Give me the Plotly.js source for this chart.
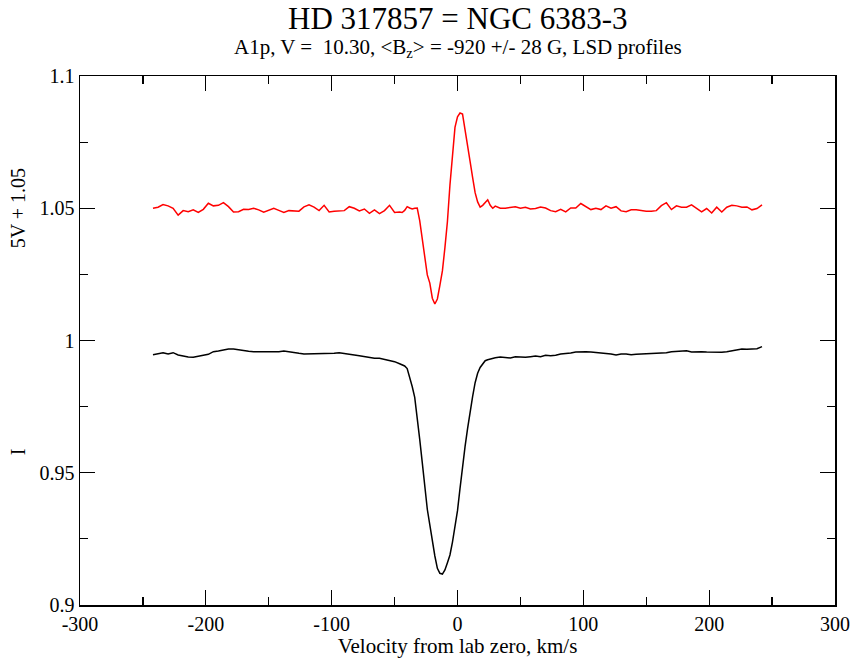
<!DOCTYPE html>
<html>
<head>
<meta charset="utf-8">
<script src="https://cdn.plot.ly/plotly-3.0.1.min.js"></script>
<style>html,body{margin:0;padding:0;background:#fff;}#chart{width:852px;height:658px;}</style>
</head>
<body>
<div id="chart"></div>
<script>
// Velocity grid (km/s), finer across the line core
var velocity = [
-242,-238,-234,-230,-226,-222,-218,-214,-210,-206,-202,-198,-194,-190,-186,-182,-178,-174,-170,-166,
-162,-158,-154,-150,-146,-142,-138,-134,-130,-126,-122,-118,-114,-110,-106,-102,-98,-94,-90,-86,
-82,-78,-74,-70,-66,-62,-58,-54,-50,-46,
-44,-42,-40,-38,-36,-34,-32,-30,-28,-26,-24,-22,-20,-18,-16,-14,-12,-10,-8,-6,
-4,-2,0,2,4,6,8,10,12,14,16,18,20,22,24,26,28,
30,34,38,42,46,50,54,58,62,66,70,74,78,82,86,90,94,98,102,106,
110,114,118,122,126,130,134,138,142,146,150,154,158,162,166,170,174,178,182,186,
190,194,198,202,206,210,214,218,222,226,230,234,238,242
];

// Stokes V profile, plotted as 5V + 1.05
var stokesV = [
1.0500,1.0504,1.0514,1.0509,1.0500,1.0474,1.0491,1.0487,1.0494,1.0484,1.0496,1.0519,1.0509,1.0511,1.0521,1.0506,1.0486,1.0487,1.0496,1.0495,
1.0500,1.0494,1.0485,1.0494,1.0500,1.0492,1.0484,1.0491,1.0491,1.0489,1.0505,1.0513,1.0504,1.0491,1.0511,1.0486,1.0489,1.0491,1.0491,1.0506,
1.0500,1.0490,1.0497,1.0481,1.0494,1.0480,1.0491,1.0511,1.0484,1.0486,
1.0484,1.0492,1.0506,1.0501,1.0497,1.0500,1.0501,1.0452,1.0386,1.0304,1.0248,1.0217,1.0160,1.0138,1.0157,1.0208,1.0263,1.0351,1.0450,1.0588,
1.0710,1.0806,1.0846,1.0860,1.0856,1.0801,1.0744,1.0677,1.0617,1.0559,1.0524,1.0504,1.0511,1.0521,1.0532,1.0511,1.0500,
1.0508,1.0500,1.0500,1.0504,1.0506,1.0500,1.0504,1.0497,1.0499,1.0505,1.0501,1.0491,1.0487,1.0496,1.0486,1.0501,1.0501,1.0518,1.0506,1.0495,
1.0500,1.0495,1.0509,1.0500,1.0506,1.0490,1.0487,1.0494,1.0494,1.0491,1.0489,1.0489,1.0491,1.0510,1.0521,1.0495,1.0509,1.0504,1.0504,1.0513,
1.0500,1.0486,1.0499,1.0482,1.0504,1.0486,1.0504,1.0511,1.0509,1.0504,1.0505,1.0494,1.0499,1.0513
];

// Stokes I profile
var stokesI = [
0.99465,0.99502,0.99540,0.99490,0.99540,0.99452,0.99402,0.99376,0.99364,0.99389,0.99439,0.99477,0.99578,0.99603,0.99641,0.99679,0.99679,0.99641,0.99616,0.99591,
0.99578,0.99578,0.99565,0.99578,0.99565,0.99578,0.99603,0.99565,0.99540,0.99515,0.99490,0.99490,0.99502,0.99515,0.99515,0.99515,0.99515,0.99540,0.99502,0.99477,
0.99452,0.99427,0.99389,0.99351,0.99326,0.99326,0.99276,0.99238,0.99200,0.99120,
0.99070,0.99036,0.98940,0.98620,0.98260,0.97850,0.97140,0.96250,0.95380,0.94423,0.93620,0.93025,0.92394,0.91853,0.91387,0.91200,0.91170,0.91323,0.91600,0.91890,
0.92380,0.92960,0.93567,0.94410,0.95243,0.95985,0.96665,0.97309,0.97880,0.98405,0.98760,0.98980,0.99110,0.99237,0.99275,0.99310,0.99340,
0.99351,0.99376,0.99351,0.99339,0.99389,0.99376,0.99364,0.99389,0.99414,0.99389,0.99439,0.99427,0.99439,0.99490,0.99502,0.99528,0.99565,0.99578,0.99578,0.99565,
0.99553,0.99528,0.99502,0.99490,0.99452,0.99490,0.99490,0.99465,0.99477,0.99490,0.99502,0.99515,0.99515,0.99515,0.99540,0.99578,0.99591,0.99603,0.99616,0.99565,
0.99578,0.99578,0.99565,0.99553,0.99540,0.99553,0.99578,0.99603,0.99654,0.99679,0.99666,0.99666,0.99691,0.99767
];

var xTicks = [-300,-200,-100,0,100,200,300];
var xTickText = ['-300','-200','-100','0','100','200','300'];
var yTicks = [0.9,0.95,1,1.05,1.1];
var yTickText = ['0.9','0.95','1','1.05','1.1'];

var serif = 'Liberation Serif';

var traces = [
  {x: velocity, y: stokesV, type: 'scatter', mode: 'lines', line: {color: '#ff0000', width: 1.5}, hoverinfo: 'none'},
  {x: velocity, y: stokesI, type: 'scatter', mode: 'lines', line: {color: '#000000', width: 1.5}, hoverinfo: 'none'}
];

function axisCommon() {
  return {
    showgrid: false, zeroline: false, showline: true, linecolor: '#000', linewidth: 1.5,
    mirror: 'ticks', ticks: 'inside', ticklen: 15, tickwidth: 1.2, tickcolor: '#000',
    tickfont: {family: serif, size: 20, color: '#000'}
  };
}

var xaxis = axisCommon();
xaxis.range = [-300, 300];
xaxis.tickmode = 'array';
xaxis.tickvals = xTicks;
xaxis.ticktext = xTickText;
xaxis.minor = {dtick: 50, tick0: -300, ticks: 'inside', ticklen: 8, tickwidth: 1.2, tickcolor: '#000', showgrid: false};
xaxis.title = {text: 'Velocity from lab zero, km/s', font: {family: serif, size: 21, color: '#000'}, standoff: 3};

var yaxis = axisCommon();
yaxis.range = [0.9, 1.1];
yaxis.tickmode = 'array';
yaxis.tickvals = yTicks;
yaxis.ticktext = yTickText;
yaxis.minor = {dtick: 0.025, tick0: 0.9, ticks: 'inside', ticklen: 8, tickwidth: 1.2, tickcolor: '#000', showgrid: false};

var layout = {
  width: 852, height: 658,
  margin: {l: 80, r: 17, t: 76, b: 53},
  paper_bgcolor: '#fff', plot_bgcolor: '#fff',
  showlegend: false,
  font: {family: serif, color: '#000'},
  xaxis: xaxis,
  yaxis: yaxis,
  annotations: [
    {text: 'HD 317857 = NGC 6383-3', xref: 'paper', yref: 'paper', x: 0.5, y: 1.1096, xanchor: 'center', yanchor: 'middle', showarrow: false, font: {family: serif, size: 31, color: '#000'}},
    {text: 'A1p, V =  10.30, &lt;B<sub>z</sub>&gt; = -920 +/- 28 G, LSD profiles', xref: 'paper', yref: 'paper', x: 0.5, y: 1.0535, xanchor: 'center', yanchor: 'middle', showarrow: false, font: {family: serif, size: 21, color: '#000'}},
    {text: '5V + 1.05', xref: 'paper', yref: 'y', x: -0.082, y: 1.05, xanchor: 'center', yanchor: 'middle', textangle: -90, showarrow: false, font: {family: serif, size: 20, color: '#000'}},
    {text: 'I', xref: 'paper', yref: 'y', x: -0.082, y: 0.9578, xanchor: 'center', yanchor: 'middle', textangle: -90, showarrow: false, font: {family: serif, size: 20, color: '#000'}}
  ]
};

Plotly.newPlot('chart', traces, layout, {staticPlot: true, displayModeBar: false});
</script>
</body>
</html>
